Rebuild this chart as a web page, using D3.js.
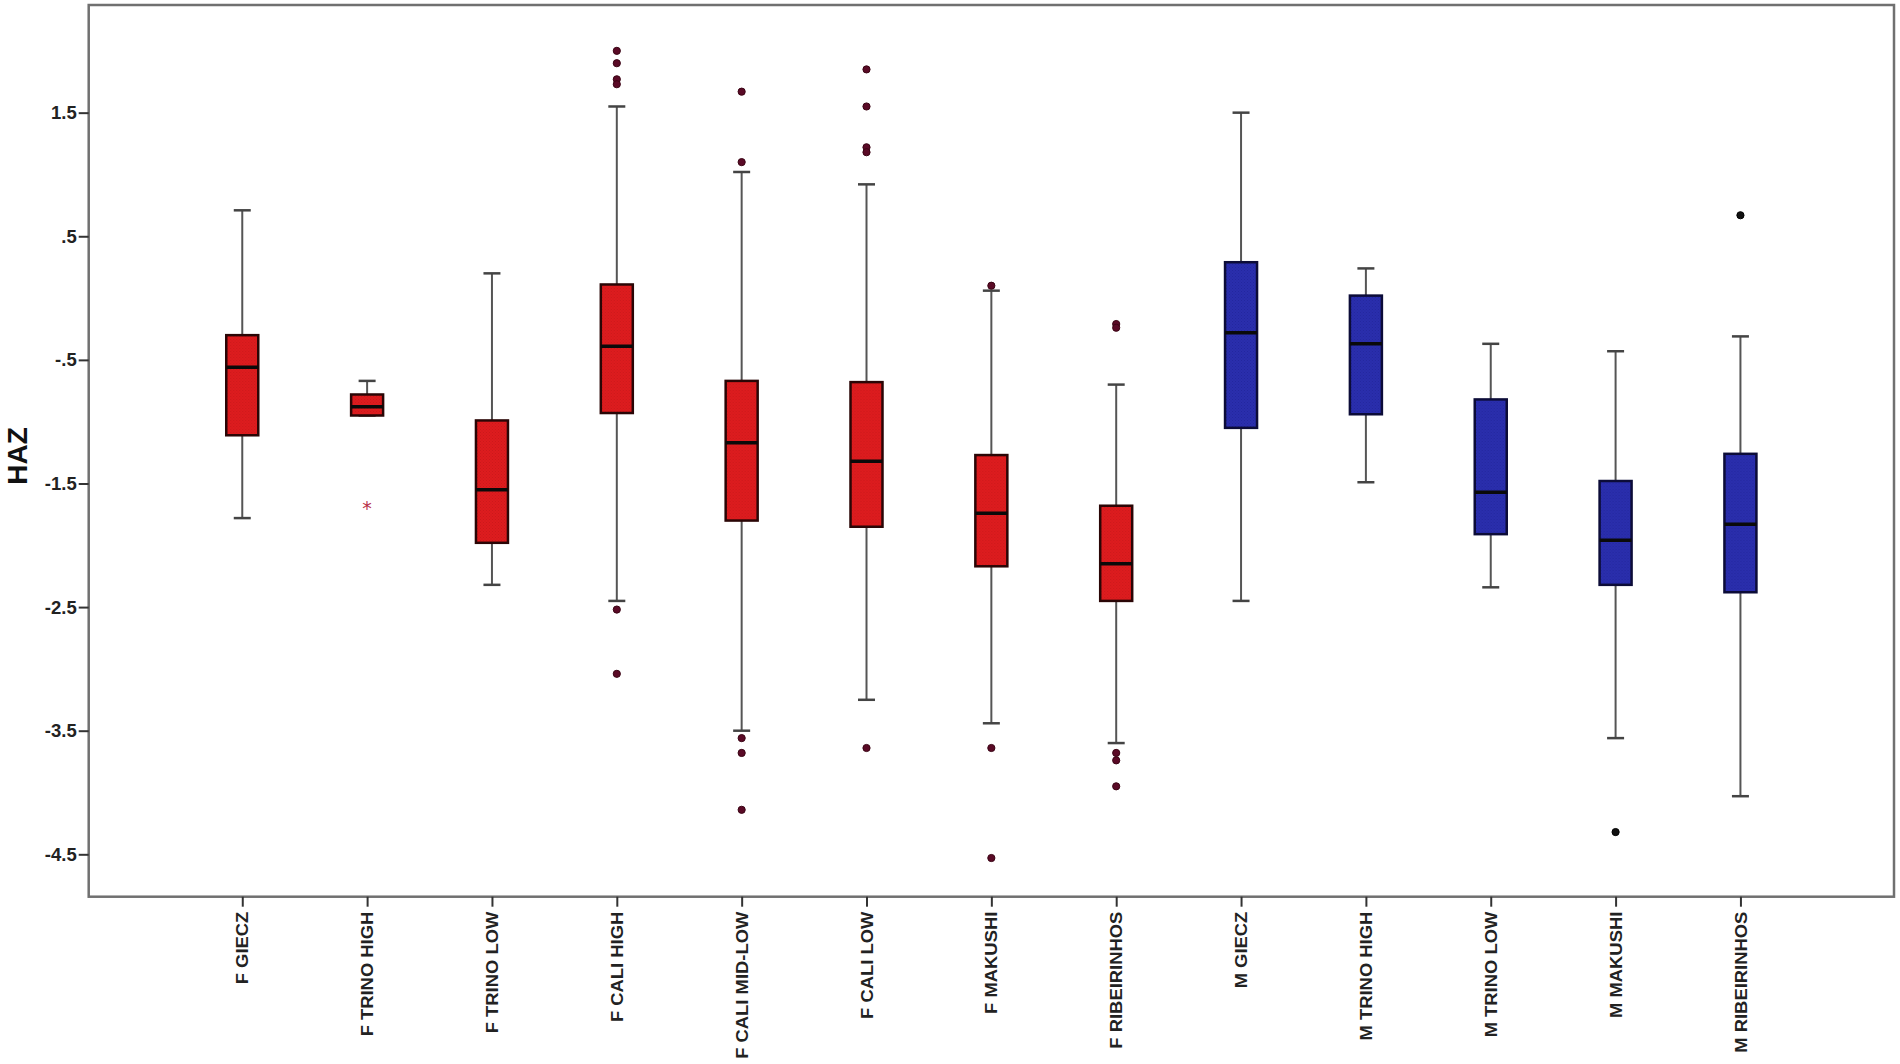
<!DOCTYPE html>
<html>
<head>
<meta charset="utf-8">
<script src="https://cdn.jsdelivr.net/npm/d3@7"></script>
<style>
  html, body { margin: 0; padding: 0; background: #ffffff; }
  svg { display: block; }
</style>
</head>
<body>
<svg id="chart" width="1900" height="1064"></svg>
<script>
// ---- data ----
const categories = ["F GIECZ", "F TRINO HIGH", "F TRINO LOW", "F CALI HIGH", "F CALI MID-LOW",
  "F CALI LOW", "F MAKUSHI", "F RIBEIRINHOS", "M GIECZ", "M TRINO HIGH", "M TRINO LOW",
  "M MAKUSHI", "M RIBEIRINHOS"];
const sex = ["F", "F", "F", "F", "F", "F", "F", "F", "M", "M", "M", "M", "M"];
const whiskerLow  = [-1.78, -0.95, -2.32, -2.45, -3.50, -3.25, -3.44, -3.60, -2.45, -1.49, -2.34, -3.56, -4.03];
const q1          = [-1.11, -0.95, -1.98, -0.93, -1.80, -1.85, -2.17, -2.45, -1.05, -0.94, -1.91, -2.32, -2.38];
const median      = [-0.56, -0.88, -1.55, -0.39, -1.17, -1.32, -1.74, -2.15, -0.28, -0.37, -1.57, -1.96, -1.83];
const q3          = [-0.30, -0.78, -0.99,  0.11, -0.67, -0.68, -1.27, -1.68,  0.29,  0.02, -0.82, -1.48, -1.26];
const whiskerHigh = [ 0.71, -0.67,  0.20,  1.55,  1.02,  0.92,  0.06, -0.70,  1.50,  0.24, -0.37, -0.43, -0.31];
const outliers = [
  [],
  [],
  [],
  [2.00, 1.90, 1.77, 1.73, -2.52, -3.04],
  [1.67, 1.10, -3.56, -3.68, -4.14],
  [1.85, 1.55, 1.22, 1.18, -3.64],
  [0.10, -3.64, -4.53],
  [-0.21, -0.24, -3.68, -3.74, -3.95],
  [],
  [],
  [],
  [-4.32],
  [0.67]
];
const extremes = [[], [-1.68], [], [], [], [], [], [], [], [], [], [], []];
const yTicks = [1.5, 0.5, -0.5, -1.5, -2.5, -3.5, -4.5];
const yTickLabels = ["1.5", ".5", "-.5", "-1.5", "-2.5", "-3.5", "-4.5"];
const yTitle = "HAZ";

// ---- layout ----
const svg = d3.select("#chart");
const plotLeft = 88.7, plotRight = 1894, plotTop = 5, plotBottom = 896.7;

const x = d3.scalePoint().domain(categories).range([plotLeft, plotRight]).padding(1.23);
const y = d3.scaleLinear().domain([-4.843, 2.371]).range([plotBottom, plotTop]);

const fillColor = { F: "#de1c1e", M: "#2a2eae" };
const strokeColor = { F: "#2a0606", M: "#0c0c38" };
const outlierColor = { F: "#5a0a26", M: "#111111" };

// subtle textures
const defs = svg.append("defs");
function texture(id, base, dot) {
  const p = defs.append("pattern").attr("id", id).attr("patternUnits", "userSpaceOnUse")
    .attr("width", 3).attr("height", 3);
  p.append("rect").attr("width", 3).attr("height", 3).attr("fill", base);
  p.append("rect").attr("x", 0).attr("y", 0).attr("width", 1).attr("height", 1).attr("fill", dot);
  p.append("rect").attr("x", 1.5).attr("y", 1.5).attr("width", 1).attr("height", 1).attr("fill", dot);
}
texture("texF", fillColor.F, "#ca181b");
texture("texM", fillColor.M, "#23279c");

// frame
svg.append("rect").attr("x", plotLeft).attr("y", plotTop)
  .attr("width", plotRight - plotLeft).attr("height", plotBottom - plotTop)
  .attr("fill", "none").attr("stroke", "#707070").attr("stroke-width", 2.5);

// y axis
const yAxis = d3.axisLeft(y).tickValues(yTicks).tickSize(10).tickPadding(2)
  .tickFormat((d, i) => yTickLabels[i]);
const gy = svg.append("g").attr("transform", `translate(${plotLeft},0)`).call(yAxis);
gy.select(".domain").remove();
gy.selectAll(".tick line").attr("stroke", "#333").attr("stroke-width", 2);
gy.selectAll(".tick text").attr("fill", "#222").attr("font-family", "Liberation Sans, Arial, sans-serif")
  .attr("font-size", 18.5).attr("font-weight", "bold");

// x axis
const xAxis = d3.axisBottom(x).tickSize(10).tickPadding(0);
const gx = svg.append("g").attr("transform", `translate(0,${plotBottom})`).call(xAxis);
gx.select(".domain").remove();
gx.selectAll(".tick line").attr("stroke", "#333").attr("stroke-width", 2);
gx.selectAll(".tick text")
  .attr("fill", "#222").attr("font-family", "Liberation Sans, Arial, sans-serif")
  .attr("font-size", 16).attr("font-weight", "bold")
  .attr("text-anchor", "end").attr("dy", "0.35em").attr("y", 0)
  .attr("transform", "translate(0,15) rotate(-90) scale(1.15,1)");

// y title
svg.append("text").attr("transform", `translate(27,456) rotate(-90)`)
  .attr("text-anchor", "middle").attr("font-family", "Liberation Sans, Arial, sans-serif")
  .attr("font-size", 28).attr("font-weight", "bold").attr("fill", "#111").text(yTitle);

// boxes
const boxW = 32, capW = 17;
const rows = categories.map((c, i) => ({
  c, s: sex[i], lo: whiskerLow[i], q1: q1[i], md: median[i], q3: q3[i], hi: whiskerHigh[i],
  out: outliers[i], ext: extremes[i]
}));

const g = svg.append("g");
const items = g.selectAll("g.box").data(rows).join("g").attr("class", "box")
  .attr("transform", d => `translate(${x(d.c)},0)`);

items.append("line").attr("x1", 0).attr("x2", 0).attr("y1", d => y(d.hi)).attr("y2", d => y(d.q3))
  .attr("stroke", "#555").attr("stroke-width", 2);
items.append("line").attr("x1", 0).attr("x2", 0).attr("y1", d => y(d.q1)).attr("y2", d => y(d.lo))
  .attr("stroke", "#555").attr("stroke-width", 2);
items.append("line").attr("x1", -capW / 2).attr("x2", capW / 2).attr("y1", d => y(d.hi)).attr("y2", d => y(d.hi))
  .attr("stroke", "#444").attr("stroke-width", 2.5);
items.append("line").attr("x1", -capW / 2).attr("x2", capW / 2).attr("y1", d => y(d.lo)).attr("y2", d => y(d.lo))
  .attr("stroke", "#444").attr("stroke-width", 2.5);
items.append("rect").attr("x", -boxW / 2).attr("width", boxW)
  .attr("y", d => y(d.q3)).attr("height", d => y(d.q1) - y(d.q3))
  .attr("fill", d => d.s === "F" ? "url(#texF)" : "url(#texM)")
  .attr("stroke", d => strokeColor[d.s]).attr("stroke-width", 2.5);
items.append("line").attr("x1", -boxW / 2).attr("x2", boxW / 2).attr("y1", d => y(d.md)).attr("y2", d => y(d.md))
  .attr("stroke", "#0a0a0a").attr("stroke-width", 3.5);

items.selectAll("circle.out").data(d => d.out.map(v => ({ v, s: d.s }))).join("circle")
  .attr("class", "out").attr("cx", 0).attr("cy", d => y(d.v)).attr("r", 3.6)
  .attr("fill", d => outlierColor[d.s]).attr("stroke", d => d.s === "F" ? "#3a0414" : "#000").attr("stroke-width", 1);

items.selectAll("text.ext").data(d => d.ext.map(v => ({ v, s: d.s }))).join("text")
  .attr("class", "ext").attr("x", 0).attr("y", d => y(d.v)).attr("dy", "0.5em")
  .attr("text-anchor", "middle").attr("font-family", "DejaVu Sans, sans-serif")
  .attr("font-size", 19).attr("fill", "#b83048").text("*");
</script>
</body>
</html>
